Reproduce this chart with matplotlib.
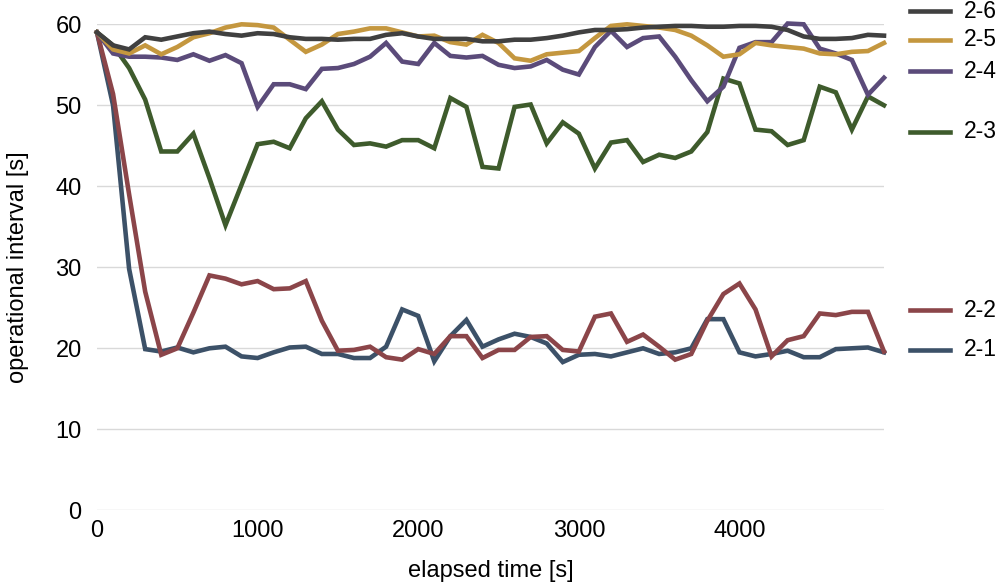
import matplotlib
matplotlib.use('Agg')
import matplotlib.pyplot as plt
from matplotlib.lines import Line2D

plt.rcParams['font.family'] = ['Liberation Sans', 'DejaVu Sans']

# elapsed time [s], one sample every 100 s
elapsed = list(range(0, 5000, 100))

s2_6 = [59.0, 57.4, 56.9, 58.4, 58.1, 58.5, 58.9, 59.1, 58.8, 58.6,
        58.9, 58.8, 58.4, 58.2, 58.2, 58.1, 58.2, 58.2, 58.7, 58.9,
        58.5, 58.2, 58.2, 58.2, 57.9, 57.9, 58.1, 58.1, 58.3, 58.6,
        59.0, 59.3, 59.3, 59.4, 59.6, 59.7, 59.8, 59.8, 59.7, 59.7,
        59.8, 59.8, 59.7, 59.3, 58.5, 58.2, 58.2, 58.3, 58.7, 58.6]
s2_5 = [59.0, 56.9, 56.4, 57.4, 56.3, 57.2, 58.4, 58.9, 59.6, 60.0,
        59.9, 59.6, 58.1, 56.6, 57.5, 58.8, 59.1, 59.5, 59.5, 59.0,
        58.5, 58.6, 57.8, 57.5, 58.7, 57.7, 55.8, 55.5, 56.3, 56.5,
        56.7, 58.3, 59.8, 60.0, 59.8, 59.6, 59.3, 58.6, 57.4, 56.0,
        56.3, 57.7, 57.4, 57.2, 57.0, 56.4, 56.3, 56.6, 56.7, 57.7]
s2_4 = [59.0, 56.4, 56.0, 56.0, 55.9, 55.6, 56.3, 55.5, 56.2, 55.2,
        49.8, 52.6, 52.6, 52.0, 54.5, 54.6, 55.1, 56.0, 57.7, 55.4,
        55.1, 57.7, 56.1, 55.9, 56.1, 55.0, 54.6, 54.8, 55.6, 54.4,
        53.8, 57.2, 59.2, 57.2, 58.3, 58.5, 56.0, 53.1, 50.5, 52.3,
        57.1, 57.8, 57.8, 60.1, 60.0, 57.0, 56.4, 55.6, 51.3, 53.4]
s2_3 = [59.0, 57.4, 54.6, 50.7, 44.3, 44.3, 46.5, 41.0, 35.2, 40.2,
        45.2, 45.5, 44.7, 48.4, 50.5, 47.0, 45.1, 45.3, 44.9, 45.7,
        45.7, 44.7, 50.9, 49.8, 42.4, 42.2, 49.8, 50.1, 45.3, 47.9,
        46.5, 42.2, 45.4, 45.7, 43.0, 43.9, 43.5, 44.3, 46.7, 53.3,
        52.7, 47.0, 46.8, 45.1, 45.7, 52.3, 51.6, 47.0, 51.1, 50.0]
s2_2 = [59.0, 51.4, 39.0, 27.0, 19.2, 20.0, 24.4, 29.0, 28.6, 27.9,
        28.3, 27.3, 27.4, 28.3, 23.4, 19.7, 19.8, 20.2, 18.9, 18.6,
        19.9, 19.3, 21.5, 21.5, 18.8, 19.8, 19.8, 21.4, 21.5, 19.8,
        19.6, 23.9, 24.3, 20.8, 21.7, 20.2, 18.6, 19.3, 23.4, 26.7,
        28.0, 24.8, 19.0, 21.0, 21.5, 24.3, 24.1, 24.5, 24.5, 19.6]
s2_1 = [59.0, 50.0, 29.8, 19.9, 19.6, 20.1, 19.5, 20.0, 20.2, 19.0,
        18.8, 19.5, 20.1, 20.2, 19.3, 19.3, 18.8, 18.8, 20.2, 24.8,
        24.0, 18.4, 21.5, 23.5, 20.2, 21.1, 21.8, 21.4, 20.6, 18.3,
        19.2, 19.3, 19.0, 19.5, 20.0, 19.3, 19.5, 20.0, 23.6, 23.6,
        19.5, 19.0, 19.3, 19.7, 18.9, 18.9, 19.9, 20.0, 20.1, 19.5]

labels = ['2-1', '2-2', '2-3', '2-4', '2-5', '2-6']
series = [s2_1, s2_2, s2_3, s2_4, s2_5, s2_6]
colors = ['#3c5168', '#8b4549', '#3e5b2c', '#5b4b7a', '#c4973f', '#404040']
# legend rows sit next to the line ends (pixel rows in the 583 px figure)
legend_rows = [350, 310, 132, 71, 40, 11]

fig = plt.figure(figsize=(10, 5.83), dpi=100)
ax = fig.add_axes([0.097, 0.1247, 0.787, 0.8336])

for ys, c in zip(series, colors):
    ax.plot(elapsed, ys, color=c, linewidth=3.3, solid_joinstyle='miter',
            clip_on=False)

ax.set_xlim(0, 4900)
ax.set_ylim(0, 60)
ax.set_xticks([0, 1000, 2000, 3000, 4000])
ax.set_yticks(range(0, 61, 10))
ax.grid(axis='y', color='#d9d9d9', linewidth=1)
ax.set_axisbelow(True)
for sp in ax.spines.values():
    sp.set_visible(False)
ax.tick_params(axis='both', length=0, labelsize=17, colors='black')
ax.tick_params(axis='x', pad=7)
ax.tick_params(axis='y', pad=11)
ax.set_xlabel('elapsed time [s]', fontsize=17, labelpad=13)
ax.set_ylabel('operational interval [s]', fontsize=17, labelpad=19)

for lab, c, row in zip(labels, colors, legend_rows):
    yf = 1 - row / 583
    fig.add_artist(Line2D([0.910, 0.950], [yf, yf], color=c, linewidth=3.3,
                          transform=fig.transFigure))
    fig.text(0.964, yf, lab, fontsize=16.5, va='center', ha='left')

fig.savefig('out.png', dpi=100)
plt.close(fig)
